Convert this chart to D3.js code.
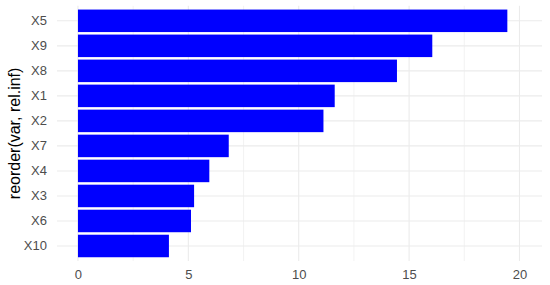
<!DOCTYPE html>
<html>
<head>
<meta charset="utf-8">
<script src="https://cdn.jsdelivr.net/npm/d3@7"></script>
<style>
  html, body { margin: 0; padding: 0; background: #fff; }
  svg { display: block; }
</style>
</head>
<body>
<svg id="chart" width="550" height="285"></svg>
<script>
const categories = ["X5", "X9", "X8", "X1", "X2", "X7", "X4", "X3", "X6", "X10"];
const relInf = [19.45, 16.05, 14.45, 11.63, 11.12, 6.83, 5.95, 5.26, 5.12, 4.12];
const xTicks = [0, 5, 10, 15, 20];
const xMinorTicks = [2.5, 7.5, 12.5, 17.5];
const yTitle = "reorder(var, rel.inf)";

const svg = d3.select("#chart");
const panel = { left: 57, right: 542, top: 5.8, bottom: 261 };

const x = d3.scaleLinear().domain([-0.95, 21.02]).range([panel.left, panel.right]);
const y = d3.scaleBand().domain(categories).range([panel.top, panel.bottom])
  .paddingInner(0.1).paddingOuter(0.15);

const grid = svg.append("g");
grid.selectAll("line.minor").data(xMinorTicks).join("line")
  .attr("x1", d => x(d)).attr("x2", d => x(d))
  .attr("y1", panel.top).attr("y2", panel.bottom)
  .attr("stroke", "#EBEBEB").attr("stroke-width", 0.6);
grid.selectAll("line.majx").data(xTicks).join("line")
  .attr("x1", d => x(d)).attr("x2", d => x(d))
  .attr("y1", panel.top).attr("y2", panel.bottom)
  .attr("stroke", "#EBEBEB").attr("stroke-width", 1.1);
grid.selectAll("line.majy").data(categories).join("line")
  .attr("x1", panel.left).attr("x2", panel.right)
  .attr("y1", d => y(d) + y.bandwidth() / 2).attr("y2", d => y(d) + y.bandwidth() / 2)
  .attr("stroke", "#EBEBEB").attr("stroke-width", 1.1);

svg.append("g").selectAll("rect").data(categories).join("rect")
  .attr("x", x(0))
  .attr("y", d => y(d))
  .attr("width", (d, i) => x(relInf[i]) - x(0))
  .attr("height", y.bandwidth())
  .attr("fill", "#0000FF");

// y axis labels
const yAxis = d3.axisLeft(y).tickSize(0).tickPadding(10);
const gy = svg.append("g").attr("transform", `translate(${panel.left},0)`).call(yAxis);
gy.select(".domain").remove();
gy.selectAll("text").attr("fill", "#4D4D4D")
  .style("font-family", "Liberation Sans, Arial, sans-serif").style("font-size", "13px");

// x axis labels
const xAxis = d3.axisBottom(x).tickValues(xTicks).tickSize(0).tickPadding(9);
const gx = svg.append("g").attr("transform", `translate(0,${panel.bottom})`).call(xAxis);
gx.select(".domain").remove();
gx.selectAll("text").attr("fill", "#4D4D4D")
  .style("font-family", "Liberation Sans, Arial, sans-serif").style("font-size", "13px");

svg.append("text")
  .attr("transform", `translate(20,${(panel.top + panel.bottom) / 2}) rotate(-90)`)
  .attr("text-anchor", "middle")
  .style("font-family", "Liberation Sans, Arial, sans-serif")
  .style("font-size", "16px")
  .attr("fill", "#000")
  .text(yTitle);
</script>
</body>
</html>
